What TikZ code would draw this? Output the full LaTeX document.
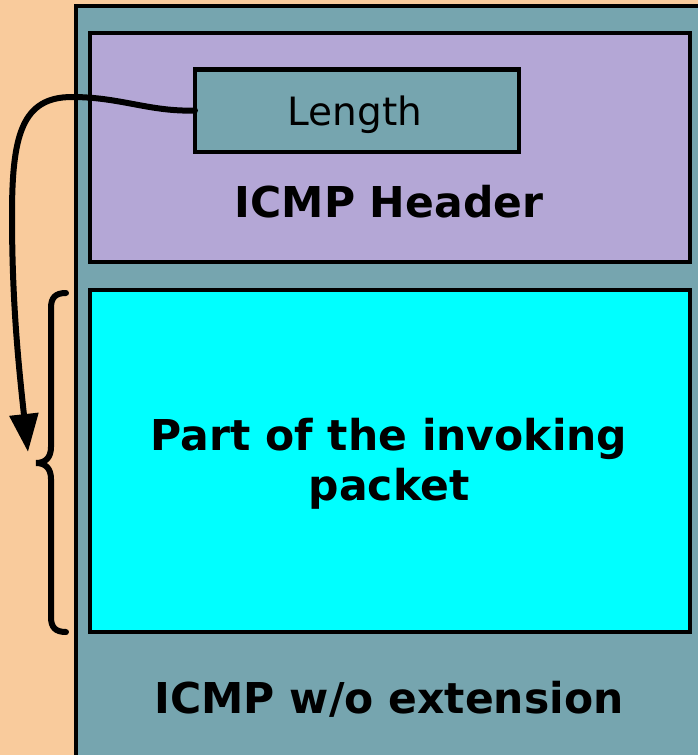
\documentclass[tikz,border=0pt]{standalone}
\usepackage{fontspec}
\setmainfont{DejaVu Sans}
\usetikzlibrary{arrows.meta}
\definecolor{peach}{HTML}{F9CB9C}
\definecolor{slate}{HTML}{76A5AF}
\definecolor{lilac}{HTML}{B4A7D6}
\definecolor{aqua}{HTML}{00FFFF}
\tikzset{
  box/.style={draw=black, line width=4bp, inner sep=0pt, outer sep=0pt, anchor=north west},
  label/.style={inner sep=0pt, anchor=base, font=\fontsize{42.5bp}{50bp}\selectfont\bfseries},
  thin label/.style={inner sep=0pt, anchor=base, font=\fontsize{39bp}{46bp}\selectfont},
  link/.style={line width=6bp, line cap=round},
}
\begin{document}
\begin{tikzpicture}[x=1bp, y=-1bp]
  \useasboundingbox (0,0) rectangle (698,755);
  \clip (0,0) rectangle (698,755);
  \fill[peach] (0,0) rectangle (698,755);

  % message container
  \node[box, fill=slate, minimum width=650bp, minimum height=780bp] (msg) at (76,6) {};
  % ICMP header and the quoted packet
  \node[box, fill=lilac, minimum width=600bp, minimum height=228bp] (hdr) at (89.5,33.5) {};
  \node[box, fill=aqua, minimum width=600bp, minimum height=342bp] (body) at (89.5,290) {};
  % length field inside the header
  \node[box, fill=slate, minimum width=324bp, minimum height=82bp] (len) at (195,69.5) {};

  \node[thin label] (lentxt) at (355,125) {Length};
  \node[label] (hdrtxt) at (389,217) {ICMP Header};
  \node[label] (bodytxt1) at (389,450) {Part of the invoking};
  \node[label] (bodytxt2) at (389,500) {packet};
  \node[label] (msgtxt) at (389,713) {ICMP w/o extension};

  % brace spanning the quoted packet
  \coordinate (bt) at (66,293);
  \coordinate (bb) at (66,632);
  \coordinate (bm) at (36,463);
  \draw[link] (bt) .. controls (55,293) and (51,298) .. (51,308)
    -- (51,447) .. controls (51,458) and (45,463) .. (bm)
    .. controls (45,463) and (51,468) .. (51,479)
    -- (51,617) .. controls (51,627) and (55,632) .. (bb);

  % length field points at the quoted part
  \coordinate (tip) at (28,452);
  \draw[link, -{Triangle[length=38bp, width=28bp]}]
    (len.west) .. controls (150,112) and (120,97) .. (72,97)
    .. controls (22,97) and (12,135) .. (12,215)
    .. controls (12,300) and (18,360) .. (tip);
\end{tikzpicture}
\end{document}
